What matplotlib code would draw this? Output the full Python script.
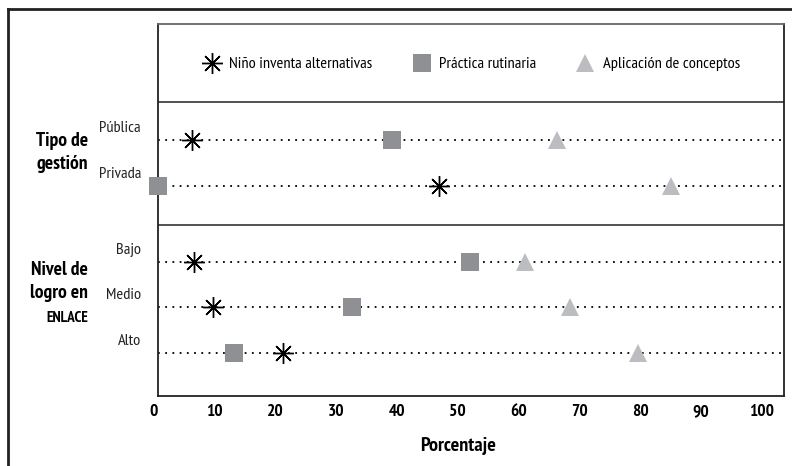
import matplotlib.pyplot as plt
from matplotlib.lines import Line2D
import matplotlib.transforms as mtransforms

plt.rcParams['font.family'] = ['PT Sans Narrow', 'DejaVu Sans']

# data (percentages)
rows = ['Pública', 'Privada', 'Bajo', 'Medio', 'Alto']
nino = [6.4, 47.0, 6.7, 9.8, 21.3]
practica = [39.2, 0.8, 52.0, 32.6, 13.3]
aplicacion = [66.4, 85.1, 61.0, 68.5, 79.7]
xticks = [0, 10, 20, 30, 40, 50, 60, 70, 80, 90, 100]

# vertical layout of the rows (in row units)
row_y = [4.67, 3.67, 2.0, 1.0, 0.0]
sep_y = [5.52, 2.81]

sq_color = '#8f9094'
tri_color = '#bcbdc1'

fig = plt.figure(figsize=(7.92, 4.66), dpi=100)
ax = fig.add_axes([158 / 792, 70 / 466, 626 / 792, 372 / 466])
ax.set_xlim(0.8, 103.6)
ax.set_ylim(-0.945, 7.23)

# outer frame, only top and left are visible
fig.add_artist(Line2D([8 / 792, 1.0], [457 / 466, 457 / 466], color='#222222', lw=2,
                      transform=fig.transFigure))
fig.add_artist(Line2D([8 / 792, 8 / 792], [0, 457 / 466], color='#222222', lw=2,
                      transform=fig.transFigure))

for s in ax.spines.values():
    s.set_linewidth(1.3)
    s.set_color('#222222')
ax.spines['top'].set_color('#666666')
ax.set_xticks([])
ax.set_yticks([])

for y in sep_y:
    ax.axhline(y, color='#333333', lw=1.2)

for y in row_y:
    ax.axhline(y, color='black', lw=1.3, ls=(0, (1, 3)))

ax.plot(nino, row_y, ls='none', marker=(8, 2, 0), ms=15, mew=1.0, color='black',
        zorder=5, clip_on=False)
ax.plot(practica, row_y, ls='none', marker='s', ms=13.5, color=sq_color, mew=0,
        zorder=5, clip_on=False)
ax.plot(aplicacion, row_y, ls='none', marker='^', ms=13, color=tri_color, mew=0,
        zorder=5, clip_on=False)

# legend
handles = [
    Line2D([], [], ls='none', marker=(8, 2, 0), ms=15, mew=1.0, color='black'),
    Line2D([], [], ls='none', marker='s', ms=13.5, color=sq_color, mew=0),
    Line2D([], [], ls='none', marker='^', ms=13, color=tri_color, mew=0),
]
ax.legend(handles, ['Niño inventa alternativas', 'Práctica rutinaria', 'Aplicación de conceptos'],
          loc='center', bbox_to_anchor=(0.5, 0.892), ncol=3, frameon=False,
          fontsize=11.8, handletextpad=0.45, columnspacing=2.4, handlelength=1.2)

trans = mtransforms.blended_transform_factory(ax.transAxes, ax.transData)
for name, y in zip(rows, row_y):
    ax.text(-0.027, y + 0.27, name, transform=trans, ha='right', va='center',
            fontsize=11.8, color='#222222')

ax.text(-0.112, 4.41, 'Tipo de\ngestión', transform=trans, ha='right', va='center',
        fontsize=14, fontweight='bold', linespacing=1.35)
ax.text(-0.112, 1.57, 'Nivel de\nlogro en', transform=trans, ha='right', va='center',
        fontsize=14, fontweight='bold', linespacing=1.3)
ax.text(-0.112, 0.77, 'ENLACE', transform=trans, ha='right', va='center',
        fontsize=11, fontweight='bold')

# tick labels (0 sits a little left of the frame)
tick_trans = mtransforms.blended_transform_factory(ax.transData, ax.transAxes)
for t in xticks:
    ax.text(t, -0.043, str(t), transform=tick_trans, ha='center', va='center',
            fontsize=12.5, fontweight='bold', clip_on=False)

ax.text(50, -0.135, 'Porcentaje', transform=tick_trans, ha='center', va='center',
        fontsize=14.5, fontweight='bold')

fig.savefig('out.png', dpi=100)
